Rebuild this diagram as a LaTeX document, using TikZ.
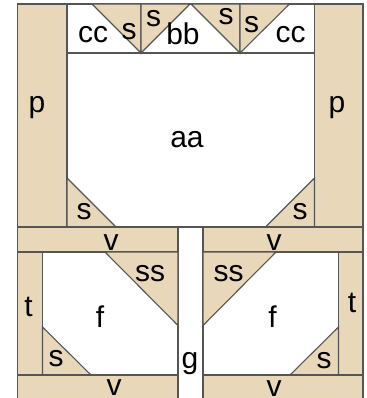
\documentclass[tikz,border=0pt]{standalone}
\usepackage{fontspec}
\setmainfont{Liberation Sans}
\tikzset{
  wood/.style={draw=edgegray,fill=woodtan},
  lbl/.style={anchor=base,inner sep=0pt,font=\fontsize{30}{32}\selectfont},
}
\definecolor{woodtan}{HTML}{E8D8B9}
\definecolor{edgegray}{HTML}{555555}
\begin{document}
\begin{tikzpicture}[x=1pt,y=-1pt,line width=1.1pt]
  \useasboundingbox (0,0) rectangle (366,398);
  \clip (0,0) rectangle (366,398);

  \draw[wood] (17.5,4) rectangle (67,227);
  \draw[wood] (314.5,4) rectangle (363,227);
  \draw[edgegray,fill=white] (67,4) rectangle (314.5,53);
  \draw[edgegray] (67,227) -- (314.5,227);

  \draw[wood] (92,4) -- (141,4) -- (141,53) -- cycle;
  \draw[wood] (141,4) -- (190,4) -- (141,53) -- cycle;
  \draw[wood] (191,4) -- (240,4) -- (240,53) -- cycle;
  \draw[wood] (240,4) -- (289.5,4) -- (240,53) -- cycle;
  \draw[wood] (67,178) -- (67,227) -- (116,227) -- cycle;
  \draw[wood] (314.5,178) -- (314.5,227) -- (265.5,227) -- cycle;

  \draw[wood] (17.5,227) rectangle (178,252);
  \draw[wood] (203,227) rectangle (363,252);
  \draw[wood] (17.5,252) rectangle (42.5,375);
  \draw[wood] (338.5,252) rectangle (363,375);
  \draw[edgegray] (178,252) -- (178,375);
  \draw[edgegray] (203,252) -- (203,375);
  \draw[wood] (105,252) -- (178,252) -- (178,325.5) -- cycle;
  \draw[wood] (276,252) -- (203,252) -- (203,325.5) -- cycle;
  \draw[wood] (42.5,327) -- (42.5,375) -- (91,375) -- cycle;
  \draw[wood] (338.5,327) -- (338.5,375) -- (290,375) -- cycle;
  \draw[wood] (17.5,375) rectangle (178,405);
  \draw[wood] (203,375) rectangle (363,405);

  \node[lbl] (aa) at (187,147) {aa};
  \node[lbl] (bb) at (183,45) {bb};
  \node[lbl] (ccl) at (93,42.5) {cc};
  \node[lbl] (ccr) at (290.5,42.5) {cc};
  \node[lbl] (st1) at (129,40) {s};
  \node[lbl] (st2) at (153.5,27) {s};
  \node[lbl] (st3) at (226,25) {s};
  \node[lbl] (st4) at (251.5,33) {s};
  \node[lbl] (pl) at (37,113) {p};
  \node[lbl] (pr) at (337,113) {p};
  \node[lbl] (sml) at (84,219) {s};
  \node[lbl] (smr) at (300,219) {s};
  \node[lbl] (vtl) at (111,250) {v};
  \node[lbl] (vtr) at (274,250) {v};
  \node[lbl] (ssl) at (150,281.5) {ss};
  \node[lbl] (ssr) at (228.5,281.5) {ss};
  \node[lbl] (tl) at (28.5,316.5) {t};
  \node[lbl] (tr) at (352,312.5) {t};
  \node[lbl] (fl) at (100,327.5) {f};
  \node[lbl] (fr) at (272.5,327.5) {f};
  \node[lbl] (sbl) at (56,366.5) {s};
  \node[lbl] (sbr) at (324,368) {s};
  \node[lbl] (g) at (190,368) {g};
  \node[lbl] (vbl) at (114,395) {v};
  \node[lbl] (vbr) at (274,396.5) {v};
\end{tikzpicture}
\end{document}
